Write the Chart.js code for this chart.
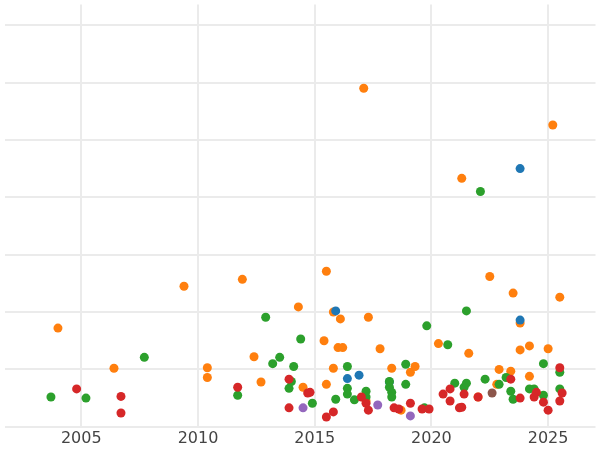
<!DOCTYPE html>
<html>
<head>
<meta charset="utf-8">
<script src="https://cdn.jsdelivr.net/npm/chart.js@4"></script>
<style>
  html, body { margin: 0; padding: 0; background: #fff; }
  #wrap { width: 600px; height: 450px; position: relative; }
</style>
</head>
<body>
<div id="wrap"><canvas id="c"></canvas></div>
<script>
// [year, value] pairs per group
const redPts = [[2004.8,6.6],[2006.7,5.3],[2006.7,2.4],[2011.7,6.9],[2013.9,8.3],[2013.9,3.3],[2014.7,5.9],[2014.8,6.0],[2015.5,1.7],[2015.8,2.6],[2017.0,5.2],[2017.2,4.1],[2017.3,2.9],[2018.4,3.3],[2018.6,3.1],[2019.1,4.1],[2019.6,3.1],[2019.9,3.1],[2020.5,5.7],[2020.8,6.6],[2020.8,4.5],[2021.2,3.3],[2021.3,3.4],[2021.4,5.7],[2022.0,5.2],[2023.4,8.3],[2023.8,5.0],[2024.4,5.2],[2024.5,6.0],[2024.8,4.3],[2025.0,2.9],[2025.5,10.3],[2025.5,4.5],[2025.6,5.9]]
const greenPts = [[2003.7,5.2],[2005.2,5.0],[2007.7,12.1],[2011.7,5.5],[2012.9,19.1],[2013.2,11.0],[2013.5,12.1],[2013.9,6.7],[2014.0,7.9],[2014.1,10.5],[2014.4,15.3],[2014.9,4.1],[2015.9,4.8],[2016.4,10.5],[2016.4,6.7],[2016.4,5.7],[2016.7,4.7],[2017.2,6.2],[2017.2,5.2],[2018.2,7.9],[2018.2,6.9],[2018.3,6.0],[2018.3,5.2],[2018.9,7.4],[2018.9,10.9],[2019.7,3.3],[2019.8,17.6],[2020.7,14.3],[2021.0,7.6],[2021.4,6.9],[2021.5,7.6],[2021.5,20.2],[2022.1,41.0],[2022.3,8.3],[2022.9,7.4],[2023.2,8.6],[2023.4,6.2],[2023.5,4.8],[2024.2,6.6],[2024.4,6.6],[2024.8,11.0],[2024.8,5.5],[2025.5,9.5],[2025.5,6.6]]
const orangePts = [[2004.0,17.2],[2006.4,10.2],[2009.4,24.5],[2010.4,10.3],[2010.4,8.6],[2011.9,25.7],[2012.4,12.2],[2012.7,7.8],[2014.3,20.9],[2014.5,6.9],[2015.4,15.0],[2015.5,27.1],[2015.8,20.0],[2016.1,18.8],[2016.0,13.8],[2016.2,13.8],[2015.8,10.2],[2015.5,7.4],[2017.1,59.0],[2017.3,19.1],[2017.2,4.5],[2017.8,13.6],[2018.3,10.2],[2018.7,2.9],[2019.1,9.5],[2019.3,10.5],[2020.3,14.5],[2021.3,43.3],[2021.6,12.8],[2022.0,5.2],[2022.5,26.2],[2022.8,7.4],[2022.9,10.0],[2023.4,9.7],[2023.5,23.3],[2023.8,18.1],[2023.8,13.4],[2024.2,14.1],[2024.2,8.8],[2025.0,13.6],[2025.2,52.6],[2025.5,22.6]]
const bluePts = [[2015.9,20.2],[2023.8,45.0],[2023.8,18.6],[2016.4,8.4],[2016.9,9.0],[2018.2,7.8]]
const purplePts = [[2014.5,3.3],[2017.7,3.8],[2019.1,1.9]]
const brownPts = [[2022.6,5.9]]

const xTicks = [2005, 2010, 2015, 2020, 2025]
const yGrid = [0, 10, 20, 30, 40, 50, 60, 70]

const groups = [
  { pts: redPts, color: "#d62728" },
  { pts: purplePts, color: "#9467bd" },
  { pts: brownPts, color: "#8c564b" },
  { pts: greenPts, color: "#2ca02c" },
  { pts: bluePts, color: "#1f77b4" },
  { pts: orangePts, color: "#ff7f0e" }
]

const datasets = groups.map(g => ({
  data: g.pts.map(p => ({ x: p[0], y: p[1] })),
  backgroundColor: g.color,
  borderColor: g.color,
  borderWidth: 0,
  pointRadius: 4.5
}))

new Chart(document.getElementById("c"), {
  type: "scatter",
  data: { datasets },
  options: {
    responsive: true,
    maintainAspectRatio: false,
    animation: false,
    layout: { padding: { left: -5, right: -5, top: -5, bottom: 0 } },
    plugins: { legend: { display: false }, tooltip: { enabled: false } },
    scales: {
      x: {
        min: 2001.71, max: 2027.03,
        border: { display: false },
        grid: { color: "#ebebeb", lineWidth: 2, drawTicks: false },
        afterBuildTicks: s => { s.ticks = xTicks.map(v => ({ value: v })) },
        ticks: {
          color: "#444", font: { family: "DejaVu Sans", size: 16 }, padding: 2,
          callback: v => String(v)
        }
      },
      y: {
        min: 0, max: 73.6,
        border: { display: false },
        grid: { color: "#ebebeb", lineWidth: 2, drawTicks: false },
        afterBuildTicks: s => { s.ticks = yGrid.map(v => ({ value: v })) },
        ticks: { display: false }
      }
    }
  }
})
</script>
</body>
</html>
